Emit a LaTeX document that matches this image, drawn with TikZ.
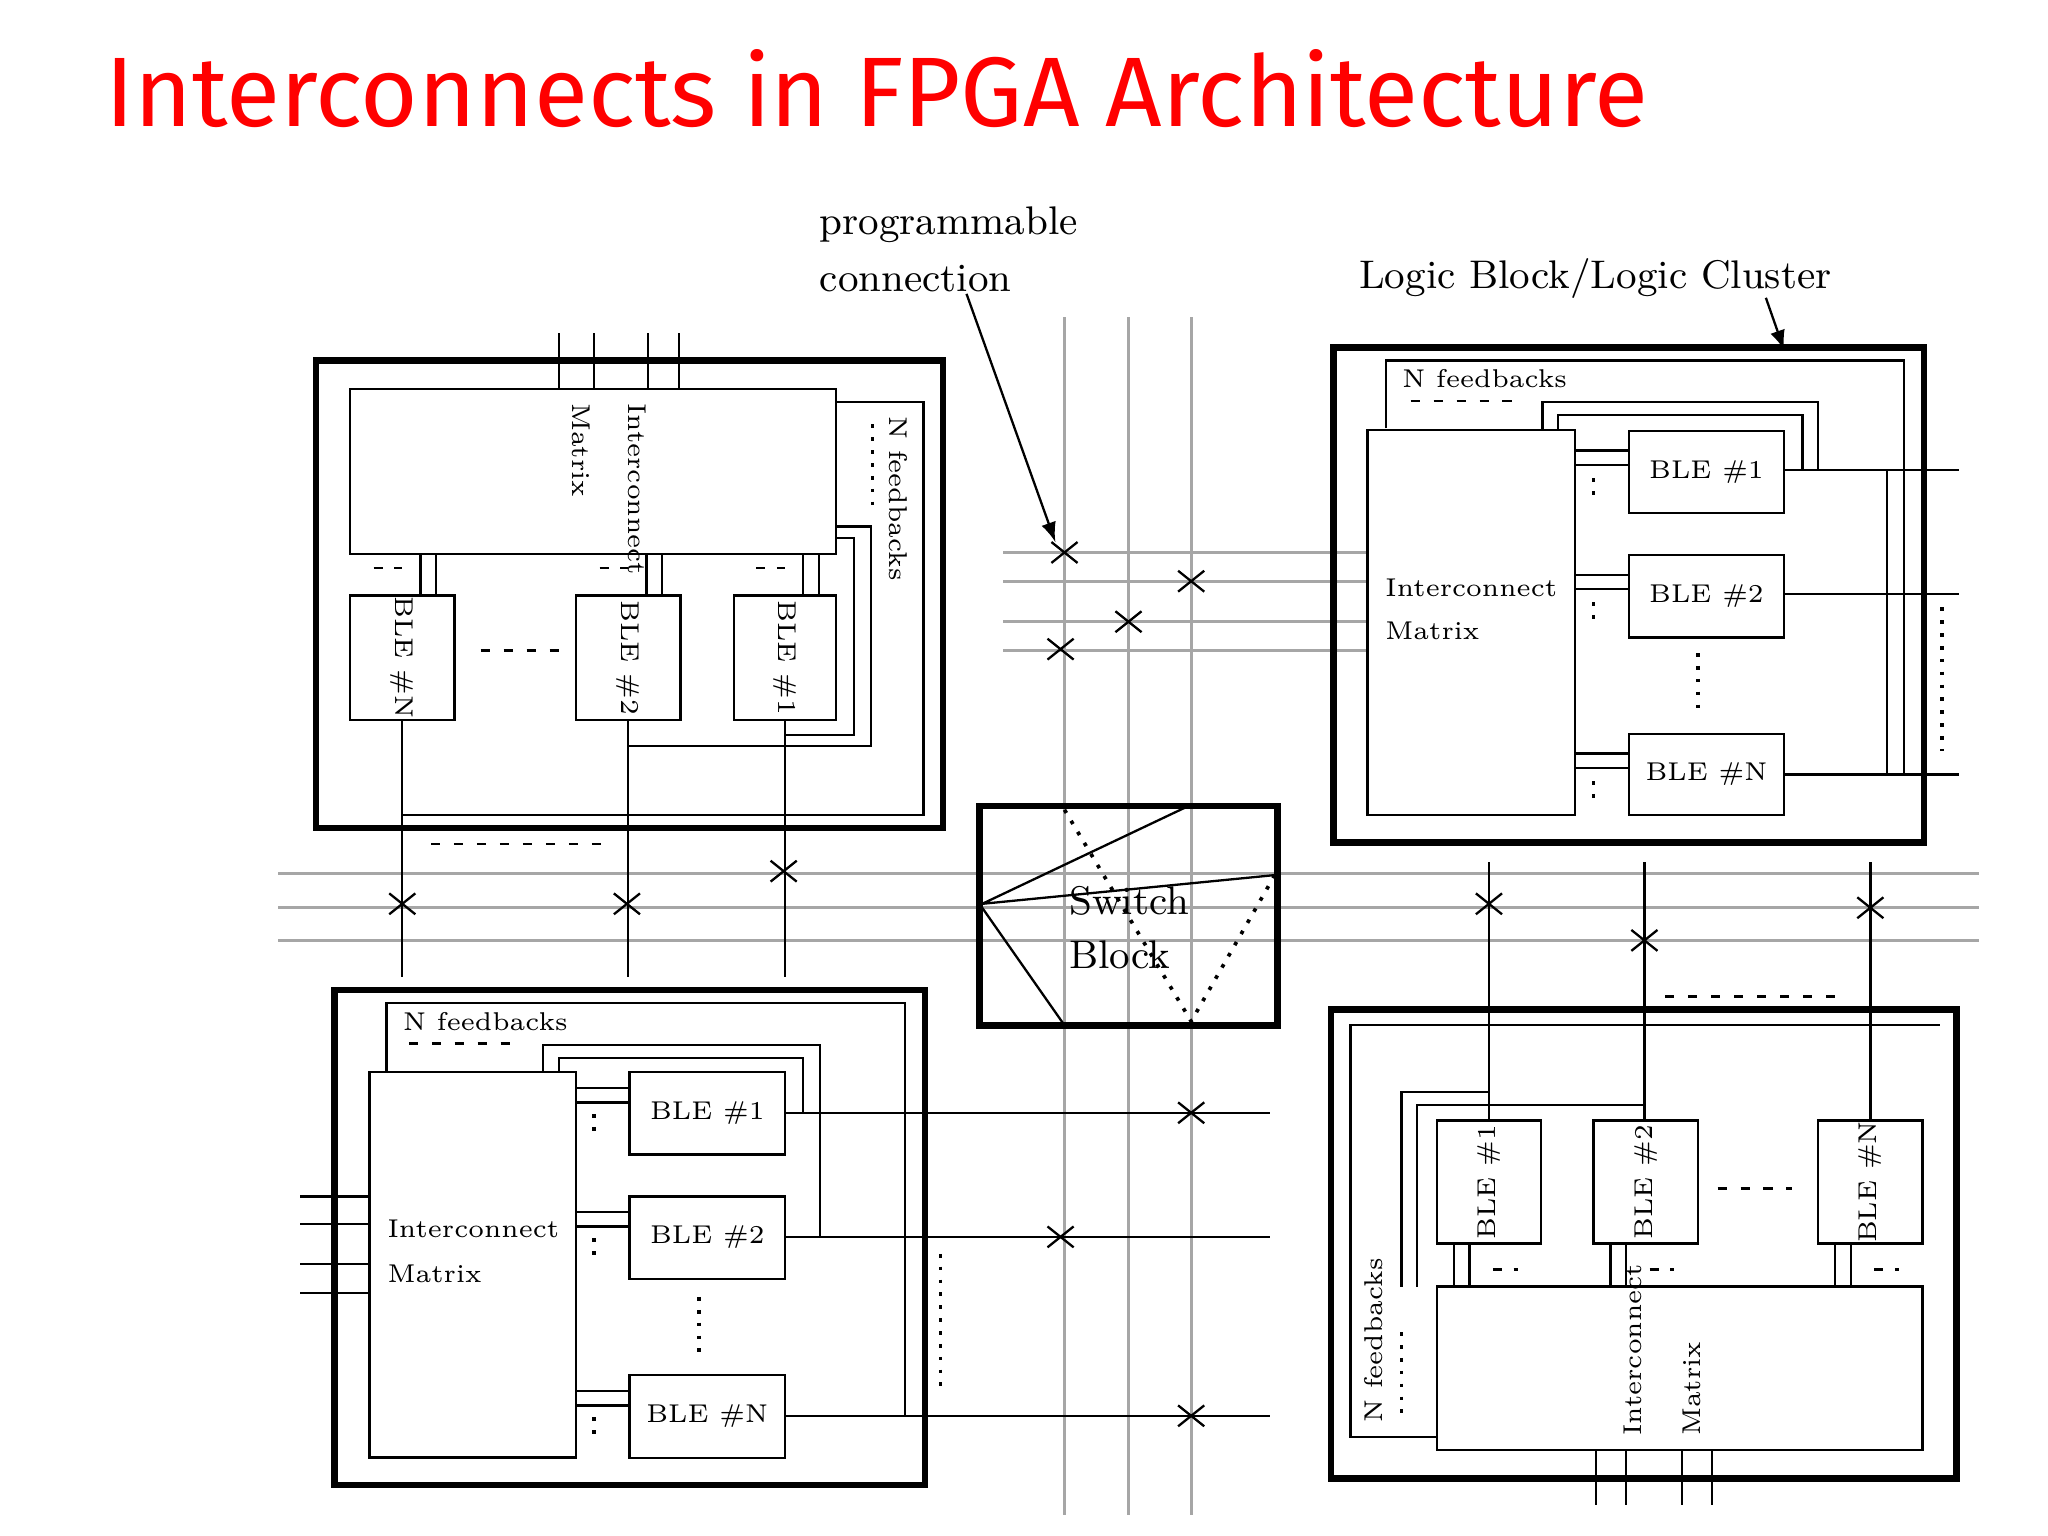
\documentclass[tikz,border=0pt]{standalone}
\usepackage{fontspec}
\newfontfamily\titlefont{Fira Sans}
\begin{document}
\begin{tikzpicture}[x=0.01cm,y=-0.01cm,
  thin/.style={line width=0.5pt},
  blk/.style={line width=1.4pt},
  bus/.style={line width=0.7pt,gray!70},
  dots/.style={dotted,line width=0.8pt},
  dsh/.style={line width=0.5pt,dash pattern=on 2pt off 3pt},
  lbl/.style={font=\fontsize{5.6}{6.5}\selectfont,inner sep=0pt},
  big/.style={font=\fontsize{8.7}{10}\selectfont,inner sep=0pt},
  ble/.style={draw,line width=0.5pt,lbl}]
\useasboundingbox (0,0) rectangle (1568,1176);
\newcommand{\XX}[2]{\draw[thin] (#1-10,#2-8) -- (#1+10,#2+8) (#1-10,#2+8) -- (#1+10,#2-8);}
\node[red,font=\titlefont\fontsize{21.5}{24}\selectfont,anchor=west,inner sep=0pt] (title) at (80,68) {Interconnects in FPGA Architecture};
% routing channels
\foreach \x in {815,864,912} \draw[bus] (\x,243) -- (\x,1160);
\foreach \y in {669,695,720} \draw[bus] (213,\y) -- (1515,\y);
\foreach \y in {423,445,476,498} \draw[bus] (768,\y) -- (1047,\y);
\XX{815}{423}\XX{912}{445}\XX{864}{476}\XX{812}{497}
\XX{308}{692}\XX{480}{692}\XX{600}{667}
\XX{1140}{692}\XX{1259}{720}\XX{1432}{695}
\XX{912}{852}\XX{812}{947}\XX{912}{1084}
% labels
\node[big,anchor=west] (pc1) at (627,172) {programmable};
\node[big,anchor=west] (pc2) at (627,213) {connection};
\coordinate (pcT) at (808,415);
\draw[thin,-latex] (740,225) -- (pcT);
\node[big,anchor=west] (lb) at (1040,213) {Logic Block/Logic Cluster};
\coordinate (lbT) at (1366,268);
\draw[thin,-latex] (1352,228) -- (lbT);
% switch block
\draw[blk] (750,617) rectangle (978,785);
\node[big,anchor=west] (sb1) at (818,690) {Switch};
\node[big,anchor=west] (sb2) at (818,731) {Block};
\draw[thin] (752,692) -- (908,618) (752,692) -- (976,670) (752,695) -- (815,785);
\draw[dots] (815,620) -- (912,782) -- (976,670);
% ===== top-left block
\draw[blk] (242,276) rectangle (722,634);
\foreach \x in {428,455,496,520} \draw[thin] (\x,255) -- (\x,298);
\draw[thin] (268,298) rectangle (640,424);
\node[lbl,rotate=-90,anchor=west] at (445,308) {Matrix};
\node[lbl,rotate=-90,anchor=west] at (488,308) {Interconnect};
\draw[thin] (640,308) -- (707,308) -- (707,624) -- (308,624);
\node[lbl,rotate=-90,anchor=west] at (688,318) {N feedbacks};
\draw[dots] (668,325) -- (668,392);
\node[ble,rotate=-90,minimum width=0.95cm,minimum height=0.8cm] (tlN) at (308,503.5) {BLE \#N};
\node[ble,rotate=-90,minimum width=0.95cm,minimum height=0.8cm] (tl2) at (481,503.5) {BLE \#2};
\node[ble,rotate=-90,minimum width=0.95cm,minimum height=0.78cm] (tl1) at (601,503.5) {BLE \#1};
\foreach \x in {308,481,601}{\draw[thin] (\x+14,424) -- (\x+14,456) (\x+26,424) -- (\x+26,456);
 \draw[thin,dash pattern=on 2pt off 2.5pt] (\x-22,435) -- (\x,435);}
\draw[dsh] (368,498) -- (428,498);
\draw[thin] (308,551) -- (308,748) (481,551) -- (481,748) (601,551) -- (601,748);
\draw[thin] (601,563) -- (654,563) -- (654,412) -- (640,412);
\draw[thin] (481,571) -- (667,571) -- (667,403) -- (640,403);
\draw[dsh] (330,646) -- (470,646);
% ===== top-right block
\draw[blk] (1021,266) rectangle (1473,645);
\draw[thin] (1061,328) -- (1061,276) -- (1458,276) -- (1458,593);
\draw[thin] (1445,360) -- (1445,593);
\node[lbl,anchor=west] at (1073,290) {N feedbacks};
\draw[dsh] (1080,307) -- (1165,307);
\draw[thin] (1047,329) rectangle (1206,624);
\node[lbl,anchor=west] at (1060,450) {Interconnect};
\node[lbl,anchor=west] at (1060,483) {Matrix};
\node[ble,minimum width=1.19cm,minimum height=0.63cm] (tr1) at (1306.5,361.5) {BLE \#1};
\node[ble,minimum width=1.19cm,minimum height=0.63cm] (tr2) at (1306.5,456.5) {BLE \#2};
\node[ble,minimum width=1.19cm,minimum height=0.62cm] (trN) at (1306.5,593) {BLE \#N};
\foreach \y in {330,425,562}{\draw[thin] (1206,\y+15) -- (1247,\y+15) (1206,\y+26) -- (1247,\y+26);
 \draw[dots] (1220,\y+36) -- (1220,\y+50);}
\draw[thin] (1366,360) -- (1500,360) (1366,455) -- (1500,455) (1366,593) -- (1500,593);
\draw[thin] (1380,360) -- (1380,318) -- (1193,318) -- (1193,329);
\draw[thin] (1392,360) -- (1392,308) -- (1181,308) -- (1181,329);
\draw[dots] (1300,500) -- (1300,545);
\draw[dots] (1487,465) -- (1487,575);
% ===== bottom-left block
\draw[blk] (256,758) rectangle (708,1137);
\draw[thin] (296,820) -- (296,768) -- (693,768) -- (693,1084);
\node[lbl,anchor=west] at (308,782) {N feedbacks};
\draw[dsh] (313,799) -- (400,799);
\draw[thin] (283,821) rectangle (441,1116);
\node[lbl,anchor=west] at (296,941) {Interconnect};
\node[lbl,anchor=west] at (296,975) {Matrix};
\node[ble,minimum width=1.19cm,minimum height=0.63cm] (bl1) at (541.5,852.5) {BLE \#1};
\node[ble,minimum width=1.19cm,minimum height=0.63cm] (bl2) at (541.5,947.5) {BLE \#2};
\node[ble,minimum width=1.19cm,minimum height=0.63cm] (blN) at (541.5,1084.5) {BLE \#N};
\foreach \y in {821,916,1053}{\draw[thin] (441,\y+12) -- (482,\y+12) (441,\y+23) -- (482,\y+23);
 \draw[dots] (455,\y+32) -- (455,\y+48);}
\draw[thin] (601,852) -- (972,852) (601,947) -- (972,947) (601,1084) -- (972,1084);
\draw[thin] (615,852) -- (615,810) -- (428,810) -- (428,821);
\draw[thin] (628,947) -- (628,800) -- (416,800) -- (416,821);
\foreach \y in {916,937,968,990} \draw[thin] (230,\y) -- (283,\y);
\draw[dots] (535,993) -- (535,1040);
\draw[dots] (720,960) -- (720,1068);
% ===== bottom-right block
\draw[blk] (1019,773) rectangle (1498,1132);
\draw[thin] (1485,785) -- (1034,785) -- (1034,1100) -- (1100,1100);
\draw[thin] (1100,985) rectangle (1472,1110);
\node[lbl,rotate=90,anchor=west] at (1250,1100) {Interconnect};
\node[lbl,rotate=90,anchor=west] at (1295,1100) {Matrix};
\node[lbl,rotate=90,anchor=west] at (1052,1090) {N feedbacks};
\draw[dots] (1073,1020) -- (1073,1085);
\node[ble,rotate=90,minimum width=0.94cm,minimum height=0.8cm] (br1) at (1140,905) {BLE \#1};
\node[ble,rotate=90,minimum width=0.94cm,minimum height=0.8cm] (br2) at (1260,905) {BLE \#2};
\node[ble,rotate=90,minimum width=0.94cm,minimum height=0.8cm] (brN) at (1432,905) {BLE \#N};
\foreach \x in {1100,1220,1392}{\draw[thin] (\x+13,952) -- (\x+13,985) (\x+25,952) -- (\x+25,985);
 \draw[thin,dash pattern=on 2pt off 2.5pt] (\x+43,972) -- (\x+62,972);}
\draw[thin] (1140,858) -- (1140,660) (1259,858) -- (1259,660) (1432,858) -- (1432,660);
\draw[thin] (1140,836) -- (1073,836) -- (1073,985);
\draw[thin] (1259,846) -- (1085,846) -- (1085,985);
\foreach \x in {1222,1245,1288,1311} \draw[thin] (\x,1110) -- (\x,1152);
\draw[dsh] (1275,763) -- (1410,763);
\draw[dsh] (1315,910) -- (1372,910);
\end{tikzpicture}
\end{document}
